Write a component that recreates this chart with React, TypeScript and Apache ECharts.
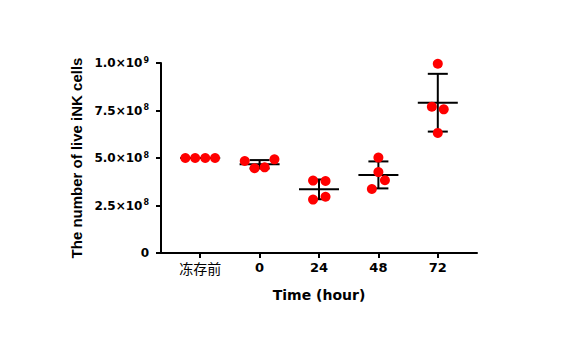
import React, { useEffect, useRef } from "react";
import * as echarts from "echarts";

const categories = ["冻存前", "0", "24", "48", "72"];
// live cell counts (cells) per group, 4 replicates each
const values: number[][] = [
  [5.0e8, 5.0e8, 5.0e8, 5.0e8],
  [4.84e8, 4.46e8, 4.51e8, 4.93e8],
  [3.81e8, 3.79e8, 2.96e8, 2.81e8],
  [5.02e8, 4.26e8, 3.83e8, 3.37e8],
  [9.96e8, 7.7e8, 7.56e8, 6.32e8],
];
// horizontal jitter of each replicate (category units)
const jitter: number[][] = [
  [-0.25, -0.085, 0.085, 0.25],
  [-0.25, -0.085, 0.085, 0.25],
  [-0.1, 0.11, 0.11, -0.1],
  [0, 0, 0.11, -0.11],
  [0, -0.1, 0.1, 0],
];
const means = [5.0e8, 4.67e8, 3.35e8, 4.11e8, 7.91e8];
const sds = [0, 0.022e9, 0.052e9, 0.071e9, 0.152e9];

export default function App() {
  const ref = useRef<HTMLDivElement>(null);
  useEffect(() => {
    document.body.style.margin = "0";
    const chart = echarts.init(ref.current!, null, { renderer: "svg" });
    const scatterData: number[][] = [];
    values.forEach((g, i) =>
      g.forEach((v, j) => scatterData.push([i + jitter[i][j], v]))
    );
    const barData = means.map((m, i) => [i, m, sds[i]]);
    chart.setOption({
      animation: false,
      backgroundColor: "#ffffff",
      grid: { left: 161, top: 63, right: 95, bottom: 99 },
      xAxis: {
        type: "value",
        min: -0.66,
        max: 4.66,
        name: "Time (hour)",
        nameLocation: "middle",
        nameGap: 35,
        nameTextStyle: {
          fontFamily: "DejaVu Sans",
          fontWeight: "bold",
          fontSize: 14,
          color: "#000",
        },
        splitLine: { show: false },
        axisLine: { show: true, onZero: false, lineStyle: { color: "#000", width: 2 } },
        axisTick: {
          show: true,
          customValues: [0, 1, 2, 3, 4],
          length: 5,
          lineStyle: { color: "#000", width: 2 },
        },
        axisLabel: {
          customValues: [0, 1, 2, 3, 4],
          margin: 8,
          formatter: (v: number) => {
            const c = categories[Math.round(v)];
            return /^\d+$/.test(c) ? `{n|${c}}` : `{c|${c}}`;
          },
          rich: {
            n: {
              fontFamily: "DejaVu Sans",
              fontWeight: "bold",
              fontSize: 13,
              color: "#000",
            },
            c: {
              fontFamily: "Noto Sans CJK SC",
              fontSize: 14,
              color: "#000",
            },
          },
        },
      },
      yAxis: {
        type: "value",
        min: 0,
        max: 1e9,
        interval: 2.5e8,
        name: "The number of live iNK cells",
        nameLocation: "middle",
        nameGap: 76,
        nameTextStyle: {
          fontFamily: "Liberation Sans",
          fontWeight: "bold",
          fontSize: 15,
          color: "#000",
        },
        splitLine: { show: false },
        axisLine: { show: true, onZero: false, lineStyle: { color: "#000", width: 2 } },
        axisTick: {
          show: true,
          length: 5,
          lineStyle: { color: "#000", width: 2 },
        },
        axisLabel: {
          margin: 12,
          formatter: (v: number) => {
            if (v === 0) return "{b|0}";
            const e = Math.floor(Math.log10(v) + 1e-9);
            const m = (v / Math.pow(10, e)).toFixed(1);
            return `{b|${m}×10}{s|${e}}`;
          },
          rich: {
            b: {
              fontFamily: "DejaVu Sans",
              fontWeight: "bold",
              fontSize: 12,
              color: "#000",
            },
            s: {
              fontFamily: "DejaVu Sans",
              fontWeight: "bold",
              fontSize: 8,
              color: "#000",
              verticalAlign: "top",
              padding: [0, 0, 6, 1],
            },
          },
        },
      },
      series: [
        {
          type: "custom",
          z: 2,
          data: barData,
          renderItem: (_p: any, api: any) => {
            const i = api.value(0);
            const m = api.value(1);
            const s = api.value(2);
            const c = api.coord([i, m]);
            const t = api.coord([i, m + s]);
            const b = api.coord([i, m - s]);
            const style = { stroke: "#000", lineWidth: 2 };
            const children: any[] = [
              { type: "line", shape: { x1: c[0] - 20, y1: c[1], x2: c[0] + 20, y2: c[1] }, style },
            ];
            if (s > 0) {
              children.push(
                { type: "line", shape: { x1: t[0], y1: t[1], x2: b[0], y2: b[1] }, style },
                { type: "line", shape: { x1: t[0] - 10, y1: t[1], x2: t[0] + 10, y2: t[1] }, style },
                { type: "line", shape: { x1: b[0] - 10, y1: b[1], x2: b[0] + 10, y2: b[1] }, style }
              );
            }
            return { type: "group", children };
          },
        },
        {
          type: "scatter",
          z: 3,
          symbolSize: 10,
          itemStyle: { color: "#ff0000", opacity: 1 },
          data: scatterData,
        },
      ],
    });
    return () => chart.dispose();
  }, []);
  return <div ref={ref} style={{ width: 572, height: 352 }} />;
}
